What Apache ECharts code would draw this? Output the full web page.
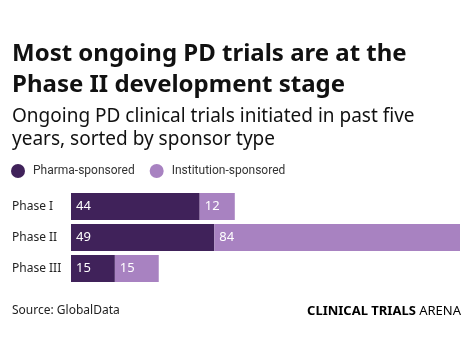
<!DOCTYPE html>
<html>
<head>
<meta charset="utf-8">
<script src="https://cdn.jsdelivr.net/npm/echarts@6/dist/echarts.min.js"></script>
<style>
  html, body { margin: 0; padding: 0; background: #fff; }
  #chart { width: 473px; height: 354px; }
</style>
</head>
<body>
<div id="chart"></div>
<script>
const phases = ['Phase I', 'Phase II', 'Phase III'];
const pharma = [44, 49, 15];
const institution = [12, 84, 15];

const font = '"Noto Sans", sans-serif';
const dark = '#40225a';
const light = '#a882c1';

let chart = echarts.init(document.getElementById('chart'));

const barLabel = {
    show: true,
    position: 'insideLeft',
    distance: 5,
    color: '#fff',
    fontSize: 13,
    fontFamily: font
};

const option = {
    animation: false,
    title: [
        {
            text: 'Most ongoing PD trials are at the\nPhase II development stage',
            left: 12,
            top: 39,
            padding: 0,
            textStyle: {fontFamily: font, fontWeight: 'bold', fontSize: 24, lineHeight: 31, color: '#111'}
        },
        {
            text: 'Ongoing PD clinical trials initiated in past five\nyears, sorted by sponsor type',
            left: 12,
            top: 105,
            padding: 0,
            textStyle: {fontFamily: font, fontWeight: 'normal', fontSize: 19, lineHeight: 23, color: '#111'}
        }
    ],
    legend: {
        left: 11,
        top: 164,
        padding: 0,
        icon: 'circle',
        itemWidth: 14,
        itemHeight: 14,
        itemGap: 15,
        textStyle: {fontFamily: 'Roboto, sans-serif', fontSize: 12, color: '#333', padding: [0, 0, 0, 3]},
        data: ['Pharma-sponsored', 'Institution-sponsored']
    },
    grid: {
        left: 71,
        right: 13,
        top: 191,
        bottom: 70
    },
    xAxis: {
        type: 'value',
        min: 0,
        max: 133,
        show: false
    },
    yAxis: {
        type: 'category',
        inverse: true,
        data: phases,
        axisLine: {show: false},
        axisTick: {show: false},
        axisLabel: {
            align: 'left',
            margin: 59,
            fontFamily: font,
            fontSize: 12,
            color: '#222'
        }
    },
    series: [
        {
            name: 'Pharma-sponsored',
            type: 'bar',
            stack: 'total',
            barCategoryGap: '13%',
            data: pharma,
            itemStyle: {color: dark},
            label: barLabel
        },
        {
            name: 'Institution-sponsored',
            type: 'bar',
            stack: 'total',
            barCategoryGap: '13%',
            data: institution,
            itemStyle: {color: light},
            label: barLabel
        }
    ],
    graphic: [
        {
            type: 'text',
            left: 12,
            top: 305,
            style: {text: 'Source: GlobalData', fontFamily: font, fontSize: 12, fill: '#222'}
        },
        {
            type: 'text',
            right: 12,
            top: 305,
            style: {
                text: '{b|CLINICAL TRIALS} {n|ARENA}',
                rich: {
                    b: {fontFamily: font, fontWeight: 'bold', fontSize: 13, color: '#222'},
                    n: {fontFamily: font, fontSize: 13, color: '#444'}
                }
            }
        }
    ]
};

chart.setOption(option);

window.addEventListener('resize', function () {
    chart.resize();
});
</script>
</body>
</html>
